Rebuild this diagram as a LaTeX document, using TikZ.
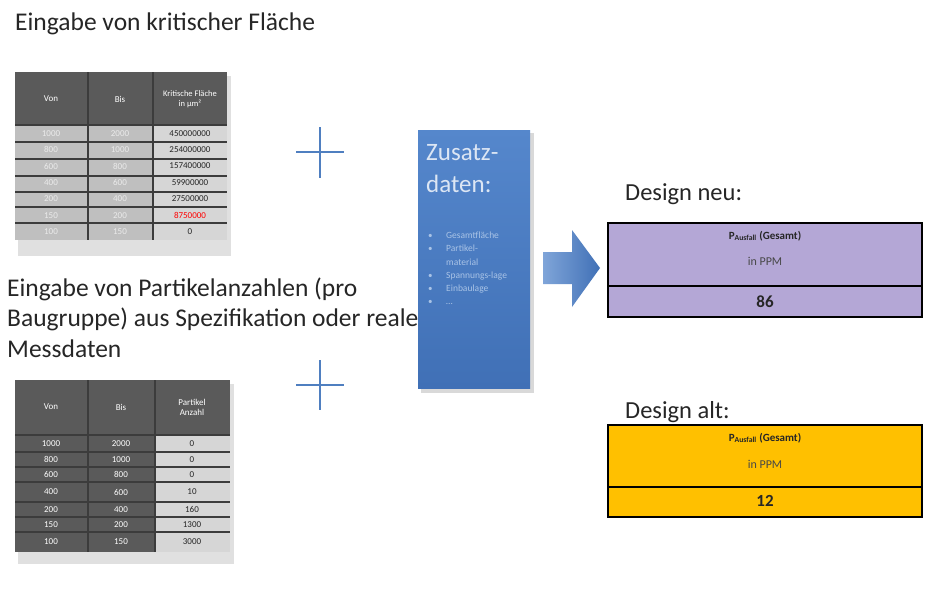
\documentclass[tikz,border=0pt]{standalone}
\usepackage{fontspec}
\setmainfont{Carlito}
\definecolor{txt}{HTML}{262626}
\definecolor{hdr}{HTML}{5A5A5A}
\definecolor{bodyg}{HTML}{BFBFBF}
\definecolor{bodyl}{HTML}{D6D6D6}
\definecolor{gridc}{HTML}{3C3C3C}
\definecolor{plusc}{HTML}{4F7FC0}
\definecolor{boxtop}{HTML}{5587CC}
\definecolor{boxbot}{HTML}{4070B6}
\definecolor{boxtxt}{HTML}{DCE6F4}
\definecolor{bultxt}{HTML}{A9C3E6}
\definecolor{purp}{HTML}{B4A7D6}
\definecolor{amber}{HTML}{FFC000}
\tikzset{
  lbl/.style={anchor=base west, inner sep=0pt, text=txt},
  cellw/.style={inner sep=0pt, text=white, font=\fontsize{9}{10}\selectfont, align=center},
  cellf/.style={inner sep=0pt, text=white!92!black, font=\fontsize{9}{10}\selectfont, align=center},
  celld/.style={inner sep=0pt, text=txt, font=\fontsize{9}{10}\selectfont, align=center},
  gridline/.style={draw=gridc, line width=1.1pt},
  plusline/.style={draw=plusc, line width=1.8pt},
  resbox/.style={draw=black, line width=2.6pt},
  restxt/.style={inner sep=0pt, text=txt}
}
\begin{document}
\begin{tikzpicture}[x=1pt,y=-1pt]
\useasboundingbox (0,0) rectangle (926,592);
\fill[white] (0,0) rectangle (926,592);

% ---------- title 1 ----------
\node[lbl, font=\fontsize{25.5}{27}\selectfont] (t1) at (15,30) {Eingabe von kritischer Fläche};

% ---------- table 1 ----------
\fill[black!12] (18,76) rectangle (231,256);
\fill[hdr] (15,72) rectangle (227,125);
\fill[bodyg] (15,125) rectangle (153,240);
\fill[bodyl] (153,125) rectangle (227,240);
\foreach \y in {142,159,176,192,207,223}{\draw[gridline] (15,\y) -- (227,\y);}
\draw[gridline] (15,125) -- (227,125);
\draw[gridline] (88,72) -- (88,240);
\draw[gridline] (153,72) -- (153,240);
\node[cellw] (a1) at (51,99) {Von};
\node[cellw] (a2) at (120,99) {Bis};
\node[cellw, font=\fontsize{8.5}{10}\selectfont] (a3) at (190,99) {Kritische Fläche\\in µm²};
\foreach [count=\i] \v/\b/\k in {1000/2000/450000000,800/1000/254000000,600/800/157400000,400/600/59900000,200/400/27500000,150/200/8750000,100/150/0}{
  \pgfmathsetmacro{\yy}{125+(\i-0.5)*16.4}
  \node[cellf] (ta\i) at (51,\yy) {\v};
  \node[cellf] (tb\i) at (120,\yy) {\b};
  \ifnum\i=6
    \node[celld, text=red] (tc\i) at (190,\yy) {\k};
  \else
    \node[celld] (tc\i) at (190,\yy) {\k};
  \fi
}

% ---------- plus signs ----------
\draw[plusline] (296,152) -- (344,152);
\draw[plusline] (320,127) -- (320,178);
\draw[plusline] (296,385) -- (344,385);
\draw[plusline] (320,360) -- (320,410);

% ---------- title 2 ----------
\node[lbl, font=\fontsize{25.5}{27}\selectfont] (t2a) at (7,296) {Eingabe von Partikelanzahlen (pro};
\node[lbl, font=\fontsize{25.5}{27}\selectfont] (t2b) at (7,326.5) {Baugruppe) aus Spezifikation oder reale};
\node[lbl, font=\fontsize{25.5}{27}\selectfont] (t2c) at (7,357) {Messdaten};

% ---------- table 2 ----------
\fill[black!12] (18,384) rectangle (234,564);
\fill[hdr] (15,380) rectangle (230,552);
\fill[bodyl] (155,435) rectangle (230,552);
\foreach \y in {452,467,482,502,517,532}{\draw[gridline] (15,\y) -- (230,\y);}
\draw[gridline] (15,435) -- (230,435);
\draw[gridline] (88,380) -- (88,552);
\draw[gridline] (155,380) -- (155,552);
\node[cellw] (b1) at (51,407) {Von};
\node[cellw] (b2) at (121,407) {Bis};
\node[cellw] (b3) at (192,407) {Partikel\\Anzahl};
\foreach [count=\i] \v/\b/\k/\yy in {1000/2000/0/443.5,800/1000/0/459.5,600/800/0/474.5,400/600/10/492,200/400/160/509.5,150/200/1300/524.5,100/150/3000/542}{
  \node[cellw] (sa\i) at (51,\yy) {\v};
  \node[cellw] (sb\i) at (121,\yy) {\b};
  \node[celld] (sc\i) at (192,\yy) {\k};
}

% ---------- blue box ----------
\fill[black!15] (421,133) rectangle (534,393);
\shade[top color=boxtop, bottom color=boxbot] (418,130) rectangle (530,388);
\node[lbl, text=boxtxt, font=\fontsize{25}{32}\selectfont] (zt) at (426,160) {Zusatz-};
\node[lbl, text=boxtxt, font=\fontsize{25}{32}\selectfont] (zd) at (426,192) {daten:};
\foreach [count=\i] \b/\t/\yy in {\textbullet/Gesamtfläche/238,\textbullet/Partikel-/251,/material/265,\textbullet/Spannungs-lage/278,\textbullet/Einbaulage/291,\textbullet/\ldots/304}{
  \node[lbl, text=bultxt, font=\fontsize{9}{10}\selectfont] (zb\i) at (428,\yy) {\b};
  \node[lbl, text=bultxt, font=\fontsize{9.5}{10}\selectfont] (zl\i) at (446,\yy) {\t};
}

% ---------- arrow ----------
\shade[left color=boxtop!75!white, right color=boxbot]
  (543,252) -- (572,252) -- (572,230) -- (600,268) -- (572,307) -- (572,284) -- (543,284) -- cycle;

% ---------- result boxes ----------
\node[lbl, font=\fontsize{24.5}{26}\selectfont] (dn) at (625,200) {Design neu:};
\fill[purp] (608,223) rectangle (922,317);
\draw[resbox] (608,223) rectangle (922,317);
\draw[draw=black, line width=1.6pt] (608,286) -- (922,286);
\node[restxt, font=\bfseries\fontsize{11}{12}\selectfont] (pn) at (765,236) {P\textsubscript{Ausfall} (Gesamt)};
\node[restxt, text=txt!85, font=\fontsize{12}{13}\selectfont] (in) at (765,261) {in PPM};
\node[restxt, font=\bfseries\fontsize{17}{19}\selectfont] (vn) at (765,302) {86};

\node[lbl, font=\fontsize{24.5}{26}\selectfont] (da) at (625,418) {Design alt:};
\fill[amber] (608,425) rectangle (922,517);
\draw[resbox] (608,425) rectangle (922,517);
\draw[draw=black, line width=1.6pt] (608,487) -- (922,487);
\node[restxt, font=\bfseries\fontsize{11}{12}\selectfont] (pa) at (765,438) {P\textsubscript{Ausfall} (Gesamt)};
\node[restxt, text=txt!85, font=\fontsize{12}{13}\selectfont] (ia) at (765,464) {in PPM};
\node[restxt, font=\bfseries\fontsize{17}{19}\selectfont] (va) at (765,501) {12};
\end{tikzpicture}
\end{document}
